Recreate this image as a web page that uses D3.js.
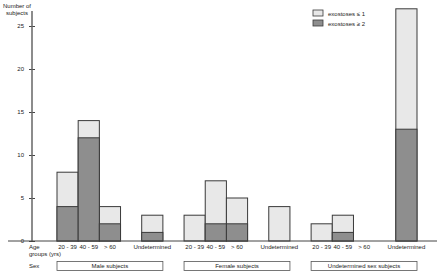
<!DOCTYPE html>
<html>
<head>
<meta charset="utf-8">
<script src="https://cdn.jsdelivr.net/npm/d3@7"></script>
<style>
  body { margin: 0; background: #fff; }
  text { font-family: "Liberation Sans", Arial, sans-serif; fill: #222; font-size: 6px; }
</style>
</head>
<body>
<div id="chart"></div>
<script>
// slots along the x axis; '' slots are empty spacers
const slots = ['m1','m2','m3','','mU','','f1','f2','f3','','fU','','u1','u2','u3','','uU']
const slotLabels = ['20 - 39','40 - 59','> 60','','Undetermined','','20 - 39','40 - 59','> 60','','Undetermined','','20 - 39','40 - 59','> 60','','Undetermined']
const totals = [8, 14, 4, 0, 3, 0, 3, 7, 5, 0, 4, 0, 2, 3, 0, 0, 27]
const high   = [4, 12, 2, 0, 1, 0, 0, 2, 2, 0, 0, 0, 0, 1, 0, 0, 13]
const yTicks = [0, 5, 10, 15, 20, 25]
const groups = [
  { name: 'Male subjects', from: 'm1', to: 'mU' },
  { name: 'Female subjects', from: 'f1', to: 'fU' },
  { name: 'Undetermined sex subjects', from: 'u1', to: 'uU' },
]
const legendItems = ['exostoses \u2264 1', 'exostoses \u2265 2']
const LIGHT = '#e8e8e8', DARK = '#8e8e8e', STROKE = '#3a3a3a'

const width = 440, height = 274
const svg = d3.select('#chart').append('svg').attr('width', width).attr('height', height)

const x = d3.scaleBand().domain(slots.map((s, i) => i)).range([57, 417]).padding(0)
const y = d3.scaleLinear().domain([0, 25]).range([241, 26])
const axisX = 32

const data = slots.map((s, i) => ({ i, total: totals[i], high: high[i] })).filter(d => slots[d.i] && d.total > 0)

// bars: light (total) then dark (high) on top
const gBars = svg.append('g')
gBars.selectAll('rect.low').data(data).join('rect').attr('class', 'low')
  .attr('x', d => x(d.i)).attr('width', x.bandwidth())
  .attr('y', d => y(d.total)).attr('height', d => y(0) - y(d.total))
  .attr('fill', LIGHT).attr('stroke', STROKE).attr('stroke-width', 1)
gBars.selectAll('rect.high').data(data.filter(d => d.high > 0)).join('rect').attr('class', 'high')
  .attr('x', d => x(d.i)).attr('width', x.bandwidth())
  .attr('y', d => y(d.high)).attr('height', d => y(0) - y(d.high))
  .attr('fill', DARK).attr('stroke', STROKE).attr('stroke-width', 1)

// y axis
const gY = svg.append('g').attr('transform', `translate(${axisX},0)`)
gY.call(d3.axisLeft(y).tickValues(yTicks).tickSize(3).tickPadding(4))
gY.select('.domain').remove()
gY.append('line').attr('x1', 0).attr('x2', 0).attr('y1', 11).attr('y2', y(0))
  .attr('stroke', '#666').attr('stroke-width', 1.5)
gY.selectAll('.tick line').attr('x2', 3).attr('x1', -3).attr('stroke', '#444')
gY.selectAll('.tick text').attr('x', -8).attr('fill', '#222')
  .style('font-size', '6px').style('font-family', '"Liberation Sans", Arial, sans-serif')

svg.append('text').attr('x', 31).attr('y', 8).attr('text-anchor', 'end').text('Number of')
svg.append('text').attr('x', 28).attr('y', 15).attr('text-anchor', 'end').text('subjects')

// x axis line
svg.append('line').attr('x1', 8).attr('x2', 437).attr('y1', y(0)).attr('y2', y(0))
  .attr('stroke', '#444').attr('stroke-width', 1)

// x labels
svg.append('g').selectAll('text').data(slotLabels.map((l, i) => ({ l, i })).filter(d => d.l))
  .join('text')
  .attr('x', d => x(d.i) + x.bandwidth() / 2).attr('y', 249)
  .attr('text-anchor', 'middle').text(d => d.l)
svg.append('text').attr('x', 29).attr('y', 249).text('Age')
svg.append('text').attr('x', 29).attr('y', 256).text('groups (yrs)')
svg.append('text').attr('x', 29).attr('y', 268).text('Sex')

// sex group boxes
const gGroups = svg.append('g')
groups.forEach(g => {
  const x0 = x(slots.indexOf(g.from)), x1 = x(slots.indexOf(g.to)) + x.bandwidth()
  gGroups.append('rect').attr('x', x0).attr('y', 261.5).attr('width', x1 - x0).attr('height', 9)
    .attr('fill', '#fff').attr('stroke', '#555').attr('stroke-width', 0.8)
  gGroups.append('text').attr('x', (x0 + x1) / 2).attr('y', 268).attr('text-anchor', 'middle').text(g.name)
})

// legend
const gLeg = svg.append('g').attr('transform', 'translate(313,10)')
legendItems.forEach((t, i) => {
  gLeg.append('rect').attr('x', 0).attr('y', i * 10).attr('width', 10).attr('height', 6)
    .attr('fill', i === 0 ? LIGHT : DARK).attr('stroke', STROKE).attr('stroke-width', 0.8)
  gLeg.append('text').attr('x', 15).attr('y', i * 10 + 5.5).text(t)
})
</script>
</body>
</html>
